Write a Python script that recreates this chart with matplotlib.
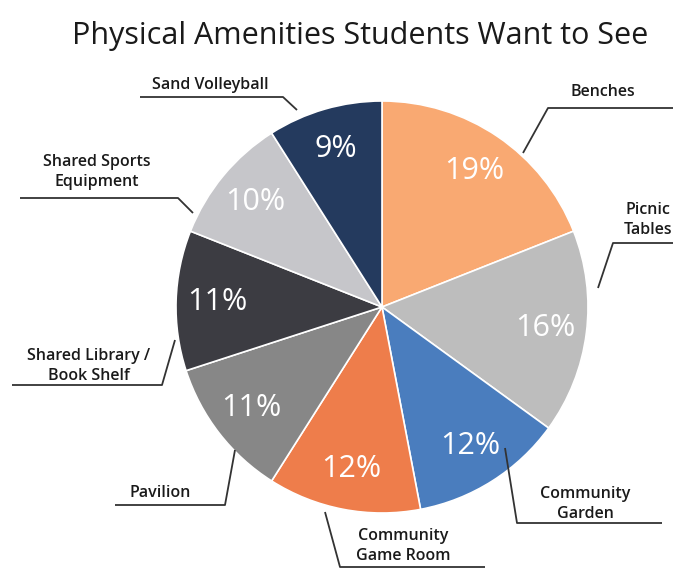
import matplotlib
matplotlib.use('Agg')
import matplotlib.pyplot as plt

# data
labels = ['Benches', 'Picnic\nTables', 'Community\nGarden', 'Community\nGame Room',
          'Pavilion', 'Shared Library /\nBook Shelf', 'Shared Sports\nEquipment', 'Sand Volleyball']
shares = [19, 16, 12, 12, 11, 11, 10, 9]
colors = ['#F9A972', '#BDBDBD', '#4A7DBE', '#EE7D4B', '#878787', '#3C3C42', '#C6C6CA', '#243A5E']

plt.rcParams['font.family'] = ['Open Sans', 'DejaVu Sans']

fig = plt.figure(figsize=(6.78, 5.73), dpi=100)
ax = fig.add_axes([0, 0, 1, 1])

# pie placed in pixel-like coordinates (y up)
cx, cy, r = 382, 573 - 307, 206
wedges, texts, autotexts = ax.pie(
    shares, colors=colors, startangle=90, counterclock=False,
    center=(cx, cy), radius=r, autopct='%d%%', pctdistance=0.8,
    wedgeprops=dict(edgecolor='white', linewidth=1.2),
    textprops=dict(color='white', fontsize=22))

# leader lines: (rim point, elbow, end of horizontal) in pixels, label pos
leaders = [
    ((523, 153), (548, 108), 673, (603, 92)),
    ((598, 288), (613, 243), 673, (648, 220)),
    ((505, 448), (517, 523), 662, (585, 504)),
    ((325, 512), (340, 567), 485, (403, 546)),
    ((235, 450), (225, 505), 115, (160, 493)),
    ((175, 340), (162, 385), 12, (89, 366)),
    ((193, 213), (178, 198), 20, (97, 172)),
    ((297, 110), (283, 97), 140, (210, 85)),
]
for lab, (p0, p1, xend, tpos) in zip(labels, leaders):
    xs = [p0[0], p1[0], xend]
    ys = [573 - p0[1], 573 - p1[1], 573 - p1[1]]
    ax.plot(xs, ys, color='#333333', lw=1.3, solid_capstyle='butt')
    ax.text(tpos[0], 573 - tpos[1], lab, ha='center', va='center', fontsize=11.5,
            fontweight='semibold', color='#1a1a1a', linespacing=1.4)

ax.text(360, 573 - 36, 'Physical Amenities Students Want to See', ha='center', va='center',
        fontsize=22, color='#1a1a1a')

ax.set_xlim(0, 678)
ax.set_ylim(0, 573)
ax.set_aspect('equal')
ax.axis('off')

fig.savefig('out.png', dpi=100)
